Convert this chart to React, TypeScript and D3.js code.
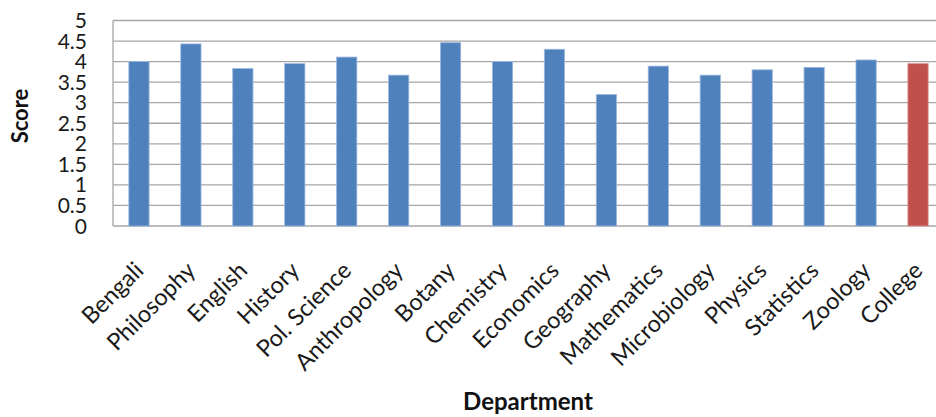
import { useEffect, useRef } from "react";
import * as d3 from "d3";

const departments = [
  "Bengali",
  "Philosophy",
  "English",
  "History",
  "Pol. Science",
  "Anthropology",
  "Botany",
  "Chemistry",
  "Economics",
  "Geography",
  "Mathematics",
  "Microbiology",
  "Physics",
  "Statistics",
  "Zoology",
  "College",
];

const scores = [4.0, 4.43, 3.83, 3.95, 4.11, 3.67, 4.46, 4.0, 4.3, 3.2, 3.89, 3.67, 3.8, 3.86, 4.04, 3.95];

const yTicks = [0, 0.5, 1, 1.5, 2, 2.5, 3, 3.5, 4, 4.5, 5];

const width = 936;
const height = 417;
const font = "Lato, 'Open Sans', sans-serif";

const App = () => {
  const ref = useRef<SVGSVGElement | null>(null);

  useEffect(() => {
    if (!ref.current) return;
    const svg = d3.select(ref.current);
    svg.selectAll("*").remove();

    const x = d3
      .scaleBand<string>()
      .domain(departments)
      .range([113, 944])
      .paddingInner(0.61)
      .paddingOuter(0.305);

    const y = d3.scaleLinear().domain([0, 5]).range([226, 20.5]);

    // gridlines
    svg
      .append("g")
      .selectAll("line")
      .data(yTicks)
      .enter()
      .append("line")
      .attr("x1", 113)
      .attr("x2", width)
      .attr("y1", (d) => y(d))
      .attr("y2", (d) => y(d))
      .attr("stroke", "#a6a6a6")
      .attr("stroke-width", 1.3);

    // y axis line
    svg
      .append("line")
      .attr("x1", 113)
      .attr("x2", 113)
      .attr("y1", y(5))
      .attr("y2", y(0))
      .attr("stroke", "#a6a6a6")
      .attr("stroke-width", 1.3);

    // tick labels
    svg
      .append("g")
      .selectAll("text")
      .data(yTicks)
      .enter()
      .append("text")
      .attr("x", 87)
      .attr("y", (d) => y(d))
      .attr("dy", "0.36em")
      .attr("text-anchor", "end")
      .attr("font-family", font)
      .attr("font-size", 21)
      .attr("fill", "#1a1a1a")
      .text((d) => String(d));

    // bars
    svg
      .append("g")
      .selectAll("rect")
      .data(scores)
      .enter()
      .append("rect")
      .attr("x", (_, i) => x(departments[i])!)
      .attr("y", (d) => y(d))
      .attr("width", x.bandwidth())
      .attr("height", (d) => y(0) - y(d))
      .attr("fill", (_, i) => (departments[i] === "College" ? "#c0504d" : "#4f81bd"))
      .attr("stroke", (_, i) => (departments[i] === "College" ? "#d99694" : "#9bb8de"))
      .attr("stroke-width", 0.8);

    // category labels
    svg
      .append("g")
      .selectAll("text")
      .data(departments)
      .enter()
      .append("text")
      .attr(
        "transform",
        (d) => `translate(${x(d)! + x.bandwidth() / 2 + 6},${y(0) + 46}) rotate(-45)`
      )
      .attr("text-anchor", "end")
      .attr("font-family", font)
      .attr("font-size", 23.5)
      .attr("fill", "#1a1a1a")
      .text((d) => d);

    svg
      .append("text")
      .attr("transform", `translate(28,116) rotate(-90)`)
      .attr("text-anchor", "middle")
      .attr("font-family", font)
      .attr("font-weight", "bold")
      .attr("font-size", 22)
      .attr("fill", "#111")
      .text("Score");

    svg
      .append("text")
      .attr("x", 528)
      .attr("y", 410)
      .attr("text-anchor", "middle")
      .attr("font-family", font)
      .attr("font-weight", "bold")
      .attr("font-size", 24)
      .attr("fill", "#111")
      .text("Department");
  }, []);

  return (
    <svg
      ref={ref}
      width={width}
      height={height}
      style={{ position: "absolute", left: 0, top: 0, background: "#fff" }}
    />
  );
};

export default App;
